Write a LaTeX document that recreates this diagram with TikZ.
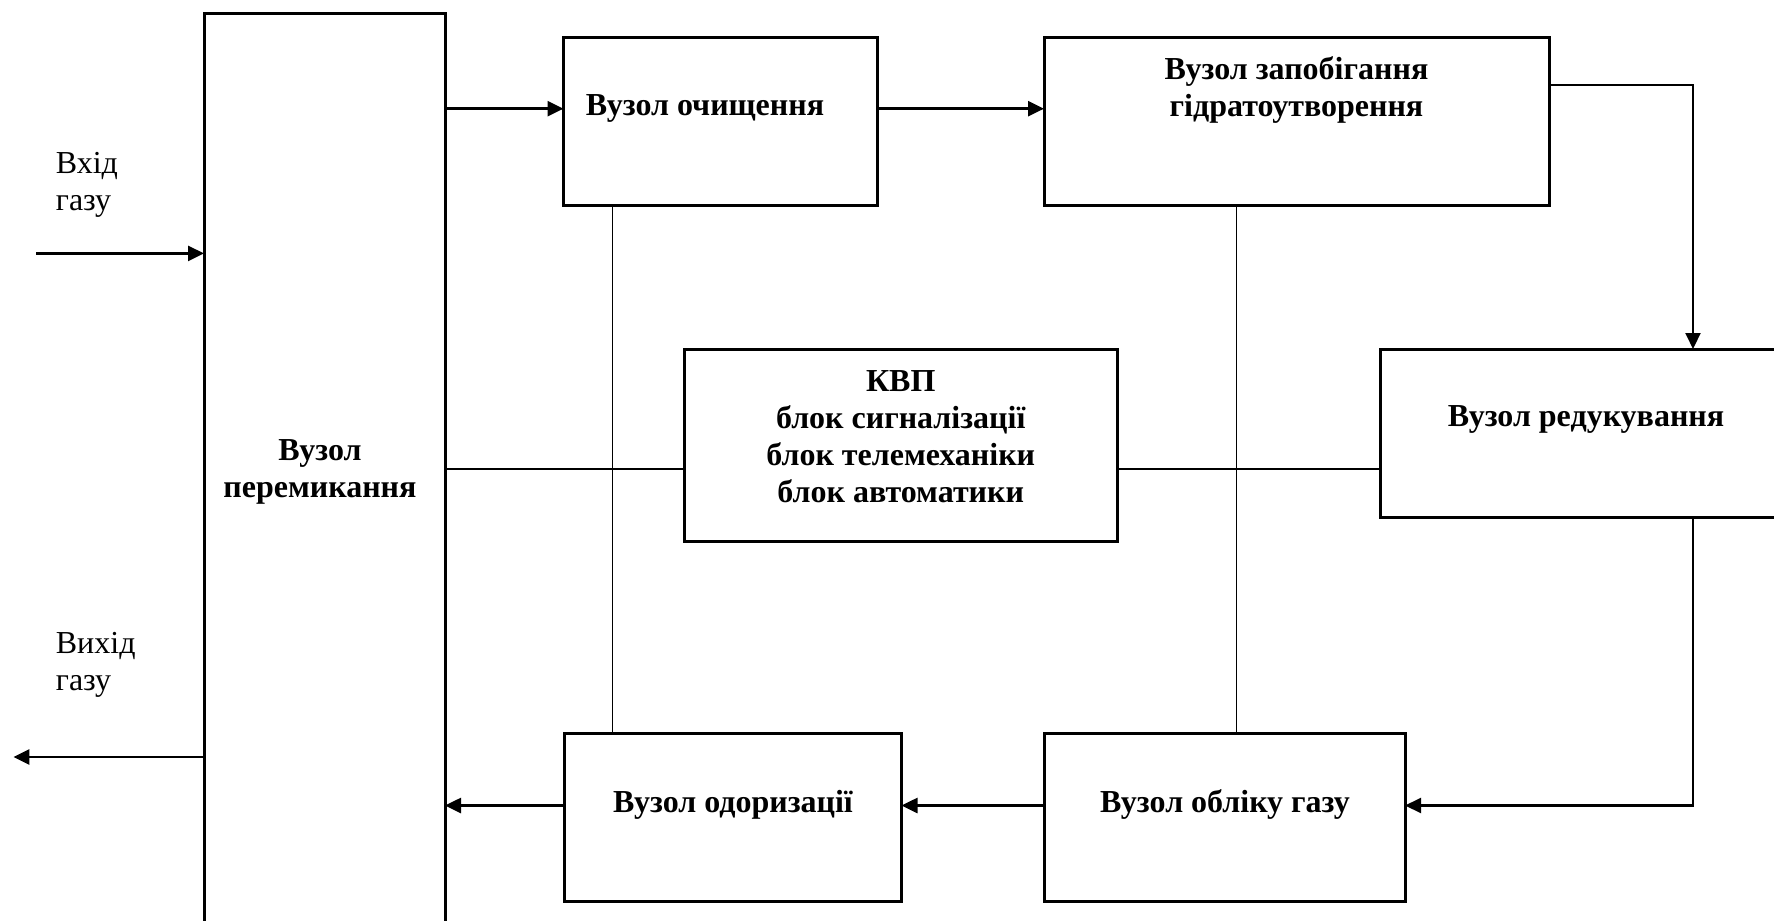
\documentclass[tikz,border=0pt]{standalone}
\usepackage{fontspec}
\setmainfont{Liberation Serif}
\usetikzlibrary{arrows.meta}
\begin{document}
\begin{tikzpicture}[x=0.5pt,y=-0.5pt,
  box/.style={draw, line width=1.5pt, inner sep=0pt, outer sep=0pt},
  lbl/.style={font=\fontsize{16pt}{18.5pt}\selectfont\bfseries, inner sep=0pt, anchor=base, align=center},
  plain/.style={font=\fontsize{16pt}{18.5pt}\selectfont, inner sep=0pt, anchor=base west, align=left},
  arr/.style={line width=1.3pt, -{Triangle[length=8pt,width=7.5pt]}},
  sidearr/.style={line width=1.05pt, -{Triangle[length=8pt,width=7.5pt]}},
  thinline/.style={line width=0.8pt}]
\clip (0,0) rectangle (1774,921);
% boxes
\node[box, minimum width=120.5pt, minimum height=456.9pt] (sw) at (324.5,470) {};
\node[box, minimum width=156.75pt, minimum height=83.75pt] (cl) at (720.25,121.25) {};
\node[box, minimum width=252.5pt, minimum height=83.75pt] (hy) at (1296.5,121.25) {};
\node[box, minimum width=216.25pt, minimum height=96pt] (kvp) at (900.75,445) {};
\node[box, minimum width=207.5pt, minimum height=84.15pt] (red) at (1587.5,433.15) {};
\node[box, minimum width=168.75pt, minimum height=84.35pt] (od) at (732.75,817.35) {};
\node[box, minimum width=180.5pt, minimum height=84.35pt] (me) at (1224.5,817.35) {};
% labels (base anchor = baseline of the last line)
\node[lbl] (swt) at (320,497) {Вузол\\перемикання};
\node[lbl] (clt) at (705,115) {Вузол очищення};
\node[lbl] (hyt) at (1296.5,116) {Вузол запобігання\\гідратоутворення};
\node[lbl] (kvpt) at (900.75,502) {КВП\\блок сигналізації\\блок телемеханіки\\блок автоматики};
\node[lbl] (redt) at (1586,426.7) {Вузол редукування};
\node[lbl] (odt) at (733,812.5) {Вузол одоризації};
\node[lbl] (met) at (1225,812.5) {Вузол обліку газу};
\node[plain] (inT) at (55.5,210) {Вхід\\газу};
\node[plain] (outT) at (55.5,690) {Вихід\\газу};
% helper coordinates
\coordinate (inS) at (36,253.4);
\coordinate (outE) at (13.4,757);
\coordinate (yA) at (0,108.7);
\coordinate (yB) at (0,85);
\coordinate (yC) at (0,805.5);
\coordinate (yD) at (0,469);
\coordinate (xR) at (1693,0);
\coordinate (xE) at (612.5,0);
\coordinate (xF) at (1236.6,0);
% flow connectors
\draw[arr] (inS) -- (inS -| sw.west);
\draw[arr] (outE -| sw.west) -- (outE);
\draw[arr] (sw.east |- yA) -- (cl.west |- yA);
\draw[arr] (cl.east |- yA) -- (hy.west |- yA);
\draw[sidearr] (hy.east |- yB) -| (xR |- red.north);
\draw[sidearr] (xR |- red.south) |- (me.east |- yC);
\draw[arr] (me.west |- yC) -- (od.east |- yC);
\draw[arr] (od.west |- yC) -- (sw.east |- yC);
% control links
\draw[thinline] (sw.east |- yD) -- (kvp.west |- yD);
\draw[thinline] (kvp.east |- yD) -- (red.west |- yD);
\draw[thinline] (cl.south -| xE) -- (od.north -| xE);
\draw[thinline] (hy.south -| xF) -- (me.north -| xF);
\end{tikzpicture}
\end{document}
